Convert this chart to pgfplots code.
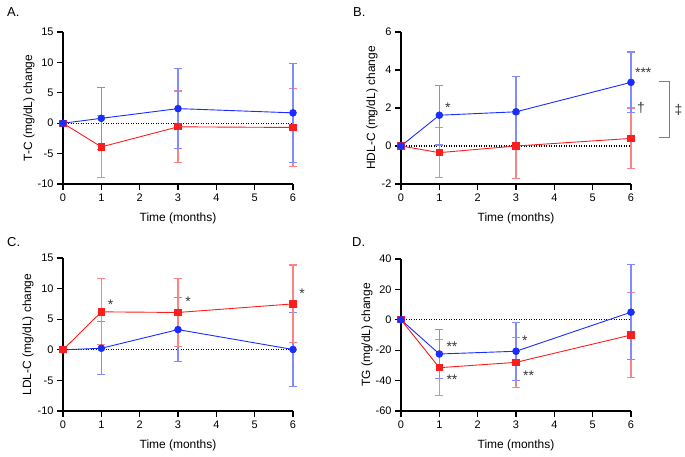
\documentclass[border=0pt]{standalone}
\usepackage{pgfplots}
\pgfplotsset{compat=1.18}
\usepackage{fontspec}
\setmainfont{Liberation Sans}
\definecolor{cblue}{RGB}{25,45,255}
\definecolor{cred}{RGB}{250,30,30}
\definecolor{cann}{RGB}{55,55,55}
\tikzset{ann/.style={font=\fontsize{14}{16}\selectfont, text=cann, inner sep=0pt}}
\pgfplotsset{
 panel/.style={scale only axis, width=230bp, height=152bp, axis lines*=left,
   axis line style={line width=1.3bp, black, -},
   xmin=0, xmax=6, xtick={0,...,6}, tick align=outside, major tick length=6bp,
   tick style={line width=1.2bp, black},
   ticklabel style={font=\fontsize{11}{13}\selectfont},
   /pgf/number format/assume math mode=true,
   label style={font=\fontsize{12}{14}\selectfont},
   xlabel={Time (months)},
   xlabel style={at={(axis description cs:0.5,-0.224)}, anchor=center},
   clip=false},
 bl/.style={cblue, line width=0.9bp, mark=*, mark size=3.3bp, mark options={solid, cblue},
   error bars/y dir=both, error bars/y explicit,
   error bars/error bar style={line width=1.1bp, color=cblue!55},
   error bars/error mark options={rotate=90, mark size=4bp, line width=1.1bp, color=cblue!55}},
 rd/.style={cred, line width=0.9bp, mark=square*, mark size=3.1bp, mark options={solid, cred},
   error bars/y dir=both, error bars/y explicit,
   error bars/error bar style={line width=1.1bp, color=cred!55},
   error bars/error mark options={rotate=90, mark size=4bp, line width=1.1bp, color=cred!55}},
 zero/.style={black, line width=1.1bp, dash pattern=on 1.1bp off 1.4bp}
}
\begin{document}
\begin{tikzpicture}
\path[use as bounding box] (0,0) rectangle (685bp,457bp);
\node[anchor=base west, font=\fontsize{13}{15}\selectfont, inner sep=0pt] at (7bp,440bp) {A.};
\node[anchor=base west, font=\fontsize{13}{15}\selectfont, inner sep=0pt] at (353bp,440bp) {B.};
\node[anchor=base west, font=\fontsize{13}{15}\selectfont, inner sep=0pt] at (7bp,210bp) {C.};
\node[anchor=base west, font=\fontsize{13}{15}\selectfont, inner sep=0pt] at (352bp,210bp) {D.};

% A
\begin{axis}[panel, at={(63bp,273bp)}, anchor=south west,
  ymin=-10, ymax=15, ytick={-10,-5,0,5,10,15},
  ylabel={T-C (mg/dL) change},
  ylabel style={at={(axis description cs:-0.148,0.5)}, anchor=center}]
\addplot[zero] coordinates {(0,0) (6,0)};
\addplot[rd] coordinates {(0,0) +- (0,0) (1,-3.9) +- (0,5.1) (3,-0.6) +- (0,5.9) (6,-0.7) +- (0,6.4)};
\addplot[bl] coordinates {(0,0) +- (0,0) (1,0.8) +- (0,5.1) (3,2.4) +- (0,6.6) (6,1.7) +- (0,8.1)};
\end{axis}

% B
\begin{axis}[panel, at={(401bp,273bp)}, anchor=south west,
  ymin=-2, ymax=6, ytick={-2,0,2,4,6},
  ylabel={HDL-C (mg/dL) change},
  ylabel style={at={(axis description cs:-0.126,0.5)}, anchor=center}]
\addplot[zero] coordinates {(0,0) (6,0)};
\addplot[rd] coordinates {(0,0) +- (0,0) (1,-0.35) +- (0,1.3) (3,0) +- (0,1.7) (6,0.4) +- (0,1.6)};
\addplot[bl] coordinates {(0,0) +- (0,0) (1,1.62) +- (0,1.57) (3,1.8) +- (0,1.85) (6,3.35) +- (0,1.6)};
\node[ann] at (axis cs:1.22,2.0) {*};
\node[ann] at (axis cs:6.32,3.85) {***};
\node[ann] at (axis cs:6.26,2.0) {†};
\draw[gray, line width=1.2bp] (axis cs:6.74,3.4) -- (axis cs:7.0,3.4) -- (axis cs:7.0,0.45) -- (axis cs:6.74,0.45);
\node[ann] at (axis cs:7.24,1.9) {‡};
\end{axis}

% C
\begin{axis}[panel, at={(63bp,46bp)}, anchor=south west, height=153bp,
  ymin=-10, ymax=15, ytick={-10,-5,0,5,10,15},
  ylabel={LDL-C (mg/dL) change},
  ylabel style={at={(axis description cs:-0.152,0.5)}, anchor=center}]
\addplot[zero] coordinates {(0,0) (6,0)};
\addplot[bl] coordinates {(0,0) +- (0,0) (1,0.25) +- (0,4.35) (3,3.3) +- (0,5.2) (6,0.05) +- (0,6.05)};
\addplot[rd] coordinates {(0,0) +- (0,0) (1,6.2) +- (0,5.4) (3,6.1) +- (0,5.5) (6,7.5) +- (0,6.35)};
\node[ann] at (axis cs:1.24,7.3) {*};
\node[ann] at (axis cs:3.26,7.8) {*};
\node[ann] at (axis cs:6.24,9.2) {*};
\end{axis}

% D
\begin{axis}[panel, at={(401bp,46bp)}, anchor=south west,
  ymin=-60, ymax=40, ytick={-60,-40,-20,0,20,40},
  ylabel={TG (mg/dL) change},
  ylabel style={at={(axis description cs:-0.148,0.5)}, anchor=center}]
\addplot[zero] coordinates {(0,0) (6,0)};
\addplot[rd] coordinates {(0,0) +- (0,0) (1,-31.5) +- (0,18.5) (3,-28) +- (0,16.3) (6,-10) +- (0,28)};
\addplot[bl] coordinates {(0,0) +- (0,0) (1,-22.5) +- (0,16) (3,-20.7) +- (0,19) (6,5) +- (0,31.3)};
\node[ann] at (axis cs:1.33,-17.5) {**};
\node[ann] at (axis cs:1.33,-39.5) {**};
\node[ann] at (axis cs:3.23,-14) {*};
\node[ann] at (axis cs:3.33,-37) {**};
\end{axis}
\end{tikzpicture}
\end{document}
